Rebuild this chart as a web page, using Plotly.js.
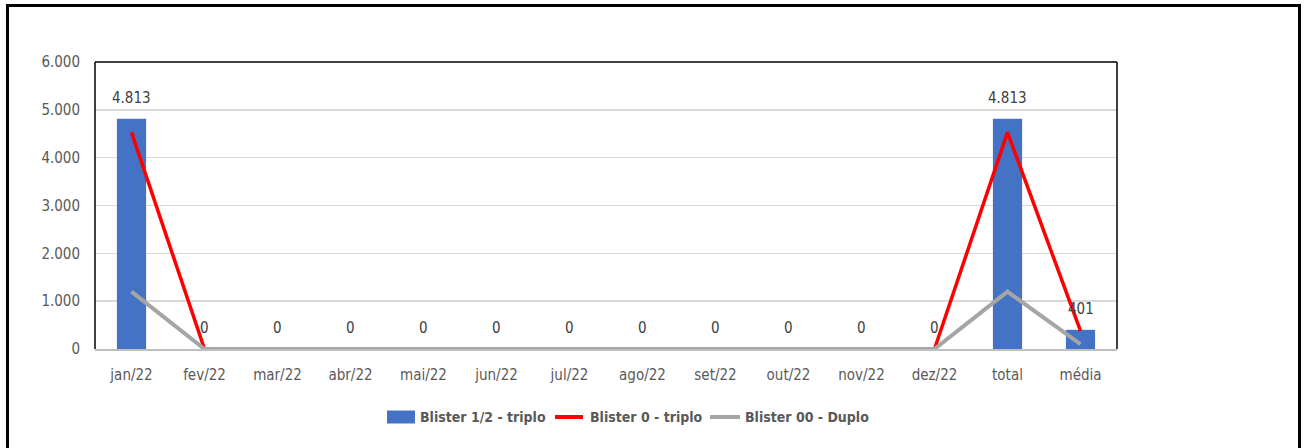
<!DOCTYPE html>
<html>
<head>
<meta charset="utf-8">
<script src="https://cdn.plot.ly/plotly-3.0.1.min.js"></script>
<style>
html,body{margin:0;padding:0;background:#fff;}
#chart{position:absolute;left:0;top:0;width:1307px;height:448px;}
#frame{position:absolute;left:6px;top:4px;width:1295px;height:460px;border:3px solid #000;pointer-events:none;box-sizing:border-box;}
</style>
</head>
<body>
<div id="chart"></div>
<div id="frame"></div>
<script>
const categories = ["jan/22","fev/22","mar/22","abr/22","mai/22","jun/22","jul/22","ago/22","set/22","out/22","nov/22","dez/22","total","média"];
const seriesNames = ["Blister 1/2 - triplo","Blister 0 - triplo","Blister 00 - Duplo"];
const blisterHalfTriplo = [4813,0,0,0,0,0,0,0,0,0,0,0,4813,401];
const blisterZeroTriplo = [4530,0,0,0,0,0,0,0,0,0,0,0,4530,378];
const blisterDoubleZeroDuplo = [1200,0,0,0,0,0,0,0,0,0,0,0,1200,100];
const yTicks = [0,1000,2000,3000,4000,5000,6000];
const seriesColors = ['#4472C4','#FF0000','#A5A5A5'];

const FONT = '"DejaVu Sans Condensed", "Liberation Sans Narrow", sans-serif';
const fmt = v => String(v).replace(/\B(?=(\d{3})+(?!\d))/g, ".");

const traces = [
  {type:'bar', name:seriesNames[0], x:categories, y:blisterHalfTriplo,
   marker:{color:seriesColors[0]}, width:0.4, hoverinfo:'skip'},
  {type:'scatter', mode:'lines', name:seriesNames[1], x:categories, y:blisterZeroTriplo,
   line:{color:seriesColors[1], width:3.5}, hoverinfo:'skip'},
  {type:'scatter', mode:'lines', name:seriesNames[2], x:categories, y:blisterDoubleZeroDuplo,
   line:{color:seriesColors[2], width:4}, hoverinfo:'skip'}
];

const annotations = categories.map((c,i)=>({
  x:c, y:blisterHalfTriplo[i], xref:'x', yref:'y', text:fmt(blisterHalfTriplo[i]),
  showarrow:false, yanchor:'middle', yshift:21,
  font:{family:FONT, size:15, color:'#404040'}
}));

// custom legend (Excel-style samples), positioned in pixel terms converted to paper coords
const L = 95, R = 1117, T = 62, B = 349;
const px = v => (v - L) / (R - L);
const py = v => (B - v) / (B - T);
const legendItems = [
  {kind:'rect', s0:387, s1:415, tx:418},
  {kind:'line', s0:555, s1:583, tx:588},
  {kind:'line', s0:710, s1:740, tx:743}
];
const legendY = 417;
const shapes = [
  {type:'line', xref:'paper', yref:'paper', x0:0, x1:0, y0:0, y1:1, line:{color:'#000', width:1.5}},
  {type:'line', xref:'paper', yref:'paper', x0:0, x1:1, y0:1, y1:1, line:{color:'#000', width:1.5}},
  {type:'line', xref:'paper', yref:'paper', x0:1, x1:1, y0:0, y1:1, line:{color:'#000', width:1.5}}
];
legendItems.forEach((it,i)=>{
  if (it.kind === 'rect') {
    shapes.push({type:'rect', xref:'paper', yref:'paper', x0:px(it.s0), x1:px(it.s1),
      y0:py(legendY-6.5), y1:py(legendY+6.5), fillcolor:seriesColors[i], line:{width:0}});
  } else {
    shapes.push({type:'line', xref:'paper', yref:'paper', x0:px(it.s0), x1:px(it.s1),
      y0:py(legendY), y1:py(legendY), line:{color:seriesColors[i], width:4}});
  }
  annotations.push({xref:'paper', yref:'paper', x:px(it.tx), y:py(legendY), xanchor:'left', yanchor:'middle',
    showarrow:false, text:'<b>'+seriesNames[i]+'</b>', font:{family:FONT, size:14, color:'#595959'}});
});

const layout = {
  width:1307, height:448,
  margin:{l:L, r:1307-R, t:T, b:448-B, pad:0},
  paper_bgcolor:'#fff', plot_bgcolor:'#fff',
  showlegend:false,
  xaxis:{type:'category', range:[-0.5,13.5], showgrid:false, showline:true, linecolor:'#BFBFBF', linewidth:1.5,
    ticks:'', ticklabelstandoff:11, tickfont:{family:FONT, size:15, color:'#595959'}, fixedrange:true},
  yaxis:{range:[0,6000], tickvals:yTicks, ticktext:yTicks.map(fmt), showgrid:true, gridcolor:'#D9D9D9', gridwidth:1.5,
    zeroline:false, showline:false, ticks:'', ticklabelstandoff:14,
    tickfont:{family:FONT, size:15, color:'#595959'}, fixedrange:true},
  annotations:annotations,
  shapes:shapes
};

Plotly.newPlot('chart', traces, layout, {displayModeBar:false, staticPlot:true});
</script>
</body>
</html>
